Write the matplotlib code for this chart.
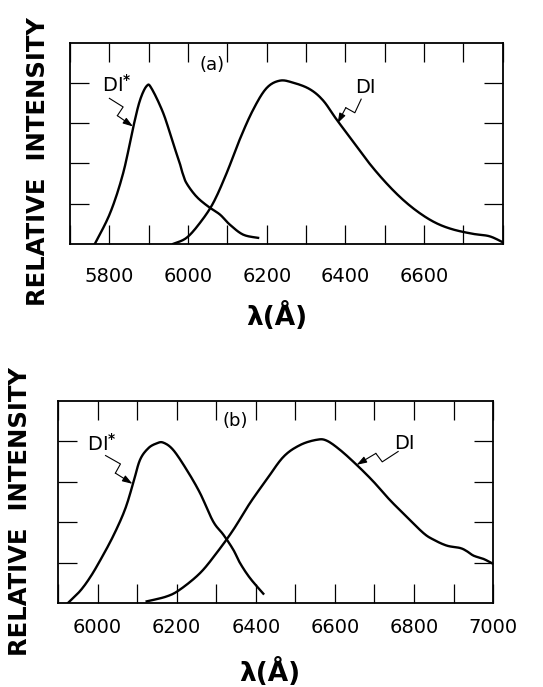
import numpy as np
import matplotlib.pyplot as plt

# panel (a)
a_star_x = [5763, 5802, 5835, 5861, 5878, 5895, 5907, 5937, 5962, 5979, 5986, 5996,
            6021, 6051, 6081, 6106, 6140, 6178]
a_star_y = [0.0, 0.77, 1.76, 2.92, 3.58, 3.93, 3.87, 3.25, 2.50, 2.0, 1.76, 1.51,
            1.18, 0.93, 0.73, 0.48, 0.23, 0.15]
a_di_x = [5962, 5996, 6030, 6064, 6098, 6131, 6165, 6199, 6233, 6267, 6309, 6343,
          6377, 6419, 6461, 6504, 6546, 6588, 6630, 6673, 6724, 6766, 6800]
a_di_y = [0.0, 0.15, 0.52, 1.02, 1.76, 2.59, 3.33, 3.87, 4.06, 4.01, 3.85, 3.57,
          3.1, 2.55, 2.0, 1.51, 1.10, 0.77, 0.52, 0.36, 0.25, 0.19, 0.04]

# panel (b)
b_star_x = [5925, 5955, 5980, 6005, 6039, 6069, 6090, 6107, 6128, 6149, 6166, 6191,
            6225, 6259, 6292, 6318, 6343, 6360, 6385, 6419]
b_star_y = [0.0, 0.29, 0.62, 1.03, 1.65, 2.31, 2.97, 3.54, 3.83, 3.95, 3.97, 3.79,
            3.30, 2.72, 2.02, 1.69, 1.32, 0.99, 0.62, 0.23]
b_di_x = [6124, 6174, 6208, 6259, 6301, 6343, 6385, 6427, 6470, 6512, 6554, 6579,
          6613, 6655, 6697, 6739, 6781, 6824, 6849, 6883, 6917, 6934, 6951, 6976, 7000]
b_di_y = [0.04, 0.16, 0.33, 0.74, 1.24, 1.81, 2.47, 3.05, 3.62, 3.91, 4.04, 4.02,
          3.79, 3.42, 3.01, 2.55, 2.14, 1.73, 1.57, 1.42, 1.36, 1.28, 1.17, 1.09, 0.97]


def smooth(x, y):
    # Catmull-Rom through the read-off points
    P = np.column_stack([x, y]).astype(float)
    P = np.vstack([P[0], P, P[-1]])
    xs, ys = [], []
    for i in range(1, len(P) - 2):
        p0, p1, p2, p3 = P[i - 1], P[i], P[i + 1], P[i + 2]
        for s in np.linspace(0, 1, 12, endpoint=False):
            pt = 0.5 * ((2 * p1) + (-p0 + p2) * s + (2 * p0 - 5 * p1 + 4 * p2 - p3) * s ** 2
                        + (-p0 + 3 * p1 - 3 * p2 + p3) * s ** 3)
            xs.append(pt[0]); ys.append(pt[1])
    xs.append(P[-2][0]); ys.append(P[-2][1])
    return xs, ys


def bolt(ax, start, end):
    t = ax.transData
    p0 = t.transform(start); p1 = t.transform(end)
    d = p1 - p0
    nrm = np.array([-d[1], d[0]]) / np.hypot(*d)
    pts = np.array([p0, p0 + 0.42 * d + 5 * nrm, p0 + 0.5 * d - 5 * nrm])
    dp = t.inverted().transform(pts)
    ax.plot(dp[:, 0], dp[:, 1], color='black', lw=0.8, clip_on=False)
    ax.annotate('', xy=end, xytext=dp[-1],
                arrowprops=dict(arrowstyle='-|>,head_length=0.6,head_width=0.2',
                                color='black', lw=0.8, shrinkA=0, shrinkB=0))


def setup(ax, xlim, labels, pad):
    ax.set_xlim(*xlim); ax.set_ylim(0, 5)
    ax.set_xticks(np.arange(xlim[0], xlim[1] + 1, 100), minor=True)
    ax.set_xticks(labels)
    ax.set_xticklabels([str(v) for v in labels])
    ax.set_yticks([1, 2, 3, 4]); ax.set_yticklabels([])
    ax.tick_params(which='both', direction='in', top=True, right=True,
                   length=14, width=0.9, pad=pad, labelsize=14)
    for s in ax.spines.values():
        s.set_linewidth(1.3)
    ax.set_ylabel('RELATIVE  INTENSITY', fontsize=17.5, fontweight='bold')
    ax.set_xlabel('λ(Å)', fontsize=19, fontweight='bold')


fig = plt.figure(figsize=(5.43, 6.87), dpi=100)
axa = fig.add_axes([0.129, 0.645, 0.797, 0.2926])
axb = fig.add_axes([0.107, 0.1223, 0.801, 0.294])

setup(axa, (5700, 6800), [5800, 6000, 6200, 6400, 6600], 17)
setup(axb, (5900, 7000), [6000, 6200, 6400, 6600, 6800, 7000], 11)

for ax, x1, y1, x2, y2 in [(axa, a_star_x, a_star_y, a_di_x, a_di_y),
                           (axb, b_star_x, b_star_y, b_di_x, b_di_y)]:
    ax.plot(*smooth(x1, y1), color='black', lw=1.7)
    ax.plot(*smooth(x2, y2), color='black', lw=1.7)

star = r'DI$^{\mathbf{*}}$'
axa.text(6060, 4.45, '(a)', fontsize=13, ha='center', va='center')
axa.text(5820, 3.95, star, fontsize=14, ha='center', va='center')
axa.text(6450, 3.9, 'DI', fontsize=14, ha='center', va='center')
bolt(axa, (5800, 3.62), (5860, 2.92))
bolt(axa, (6440, 3.6), (6380, 3.0))

axb.text(6347, 4.5, '(b)', fontsize=13, ha='center', va='center')
axb.text(6010, 3.95, star, fontsize=14, ha='center', va='center')
axb.text(6775, 3.95, 'DI', fontsize=14, ha='center', va='center')
bolt(axb, (6020, 3.65), (6088, 2.95))
bolt(axb, (6760, 3.75), (6655, 3.42))

axa.yaxis.set_label_coords(-0.047, 0.41)
axb.yaxis.set_label_coords(-0.06, 0.455)
axa.xaxis.set_label_coords(0.478, -0.289)
axb.xaxis.set_label_coords(0.487, -0.27)

fig.savefig('out.png', dpi=100)
